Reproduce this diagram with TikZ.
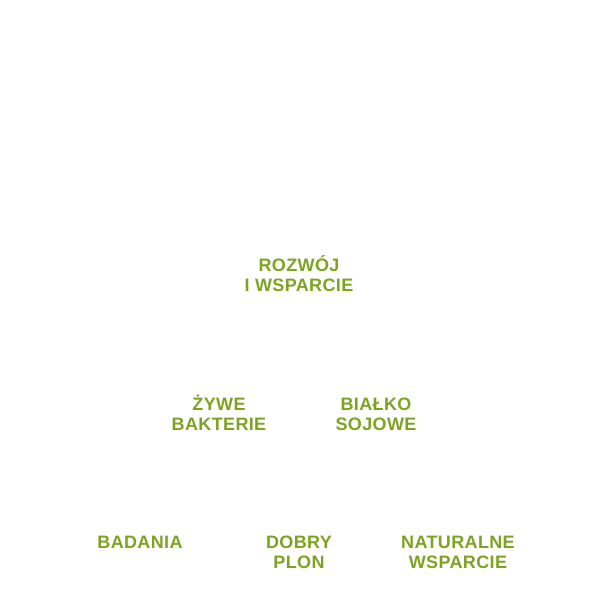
\documentclass[tikz,border=0pt]{standalone}
\usepackage{fontspec}
\setmainfont{Liberation Sans}[LetterSpace=2]
\usepackage{tikz}
\definecolor{leaf}{RGB}{125,163,33}

\begin{document}
\begin{tikzpicture}[
  x=1pt, y=-1pt,
  lbl/.style={
    text=leaf, align=center, anchor=base,
    inner sep=0pt,
    font=\fontsize{18}{20}\selectfont\bfseries
  }
]
  \useasboundingbox (0,0) rectangle (596,603);
  \node[lbl] (rozwoj) at (299,291){ROZWÓJ\\I WSPARCIE};
  \node[lbl] (zywe) at (219,430){ŻYWE\\BAKTERIE};
  \node[lbl] (bialko) at (376,430){BIAŁKO\\SOJOWE};
  \node[lbl] (badania) at (140,548){BADANIA};
  \node[lbl] (dobry) at (299,568){DOBRY\\PLON};
  \node[lbl] (naturalne) at (458,568){NATURALNE\\WSPARCIE};
\end{tikzpicture}
\end{document}
